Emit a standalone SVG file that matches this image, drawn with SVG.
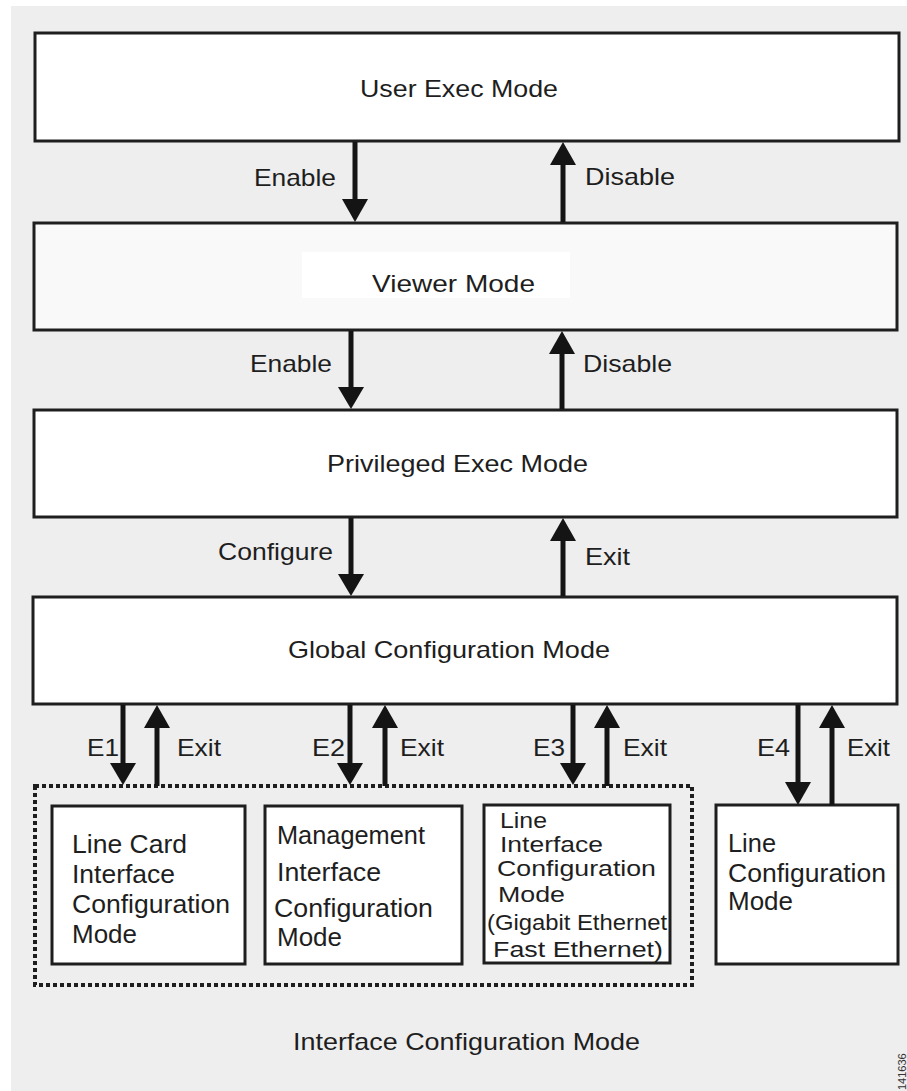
<svg xmlns="http://www.w3.org/2000/svg" width="907" height="1091" viewBox="0 0 907 1091">
<style>
text{font-family:"Liberation Sans",Arial,sans-serif;fill:#1e1e1e}
.t{font-size:24px}
.b{font-size:25px}
.c{font-size:22.5px}
.box{fill:#ffffff;stroke:#1e1e1e;stroke-width:3}
.dot{fill:none;stroke:#1e1e1e;stroke-width:4;stroke-dasharray:4 3}
.sh{stroke:#141414;stroke-width:5}
.hd{fill:#141414}
</style>
<rect x="0" y="0" width="907" height="1091" fill="#ffffff"/>
<rect x="11" y="6" width="896" height="1085" fill="#eeeeee"/>

<g id="user-exec">
<rect class="box" x="35" y="33" width="864" height="108"/>
<text class="t" x="360" y="97" textLength="198" lengthAdjust="spacingAndGlyphs">User Exec Mode</text>
</g>
<g id="viewer">
<rect class="box" x="34" y="223" width="863" height="107" style="fill:#f9f9f9"/>
<rect x="302" y="252" width="268" height="46" fill="#ffffff"/>
<text class="t" x="372" y="292" textLength="163" lengthAdjust="spacingAndGlyphs">Viewer Mode</text>
</g>
<g id="privileged">
<rect class="box" x="34" y="410" width="863" height="107"/>
<text class="t" x="327" y="472" textLength="261" lengthAdjust="spacingAndGlyphs">Privileged Exec Mode</text>
</g>
<g id="global">
<rect class="box" x="33" y="597" width="864" height="107"/>
<text class="t" x="288" y="658" textLength="322" lengthAdjust="spacingAndGlyphs">Global Configuration Mode</text>
</g>

<g id="interface-group">
<rect class="dot" x="35" y="786" width="657" height="199"/>
<text class="t" x="293" y="1050" textLength="347" lengthAdjust="spacingAndGlyphs">Interface Configuration Mode</text>
</g>
<g id="line-card">
<rect class="box" x="52" y="806" width="193" height="158"/>
<text class="b" x="72" y="853" textLength="115" lengthAdjust="spacingAndGlyphs">Line Card</text>
<text class="b" x="72" y="883" textLength="103" lengthAdjust="spacingAndGlyphs">Interface</text>
<text class="b" x="72" y="913" textLength="158" lengthAdjust="spacingAndGlyphs">Configuration</text>
<text class="b" x="72" y="943" textLength="65" lengthAdjust="spacingAndGlyphs">Mode</text>
</g>
<g id="management">
<rect class="box" x="265" y="806" width="197" height="158"/>
<text class="b" x="277" y="844" textLength="148" lengthAdjust="spacingAndGlyphs">Management</text>
<text class="b" x="277" y="881" textLength="104" lengthAdjust="spacingAndGlyphs">Interface</text>
<text class="b" x="274" y="917" textLength="159" lengthAdjust="spacingAndGlyphs">Configuration</text>
<text class="b" x="277" y="946" textLength="65" lengthAdjust="spacingAndGlyphs">Mode</text>
</g>
<g id="line-interface">
<rect class="box" x="484" y="805" width="186" height="158"/>
<text class="c" x="500" y="828" textLength="47" lengthAdjust="spacingAndGlyphs">Line</text>
<text class="c" x="500" y="852" textLength="103" lengthAdjust="spacingAndGlyphs">Interface</text>
<text class="c" x="497" y="876" textLength="159" lengthAdjust="spacingAndGlyphs">Configuration</text>
<text class="c" x="498" y="902" textLength="67" lengthAdjust="spacingAndGlyphs">Mode</text>
<text class="c" x="487" y="930" textLength="180" lengthAdjust="spacingAndGlyphs">(Gigabit Ethernet</text>
<text class="c" x="493" y="957" textLength="170" lengthAdjust="spacingAndGlyphs">Fast Ethernet)</text>
</g>
<g id="line-config">
<rect class="box" x="716" y="805" width="182" height="159"/>
<text class="b" x="728" y="852" textLength="48" lengthAdjust="spacingAndGlyphs">Line</text>
<text class="b" x="728" y="882" textLength="158" lengthAdjust="spacingAndGlyphs">Configuration</text>
<text class="b" x="728" y="910" textLength="65" lengthAdjust="spacingAndGlyphs">Mode</text>
</g>

<g id="connectors">
<line class="sh" x1="355" y1="142" x2="355" y2="202"/>
<polygon class="hd" points="342,199 368,199 355,222"/>
<line class="sh" x1="563" y1="222" x2="563" y2="162"/>
<polygon class="hd" points="550,165 576,165 563,142"/>
<line class="sh" x1="351" y1="331" x2="351" y2="390"/>
<polygon class="hd" points="338,387 364,387 351,409"/>
<line class="sh" x1="562" y1="409" x2="562" y2="351"/>
<polygon class="hd" points="549,354 575,354 562,331"/>
<line class="sh" x1="351" y1="518" x2="351" y2="577"/>
<polygon class="hd" points="338,574 364,574 351,596"/>
<line class="sh" x1="563" y1="596" x2="563" y2="538"/>
<polygon class="hd" points="550,541 576,541 563,518"/>
<line class="sh" x1="123" y1="705" x2="123" y2="765"/>
<polygon class="hd" points="110,763 136,763 123,785"/>
<line class="sh" x1="157" y1="786" x2="157" y2="725"/>
<polygon class="hd" points="144,728 170,728 157,705"/>
<line class="sh" x1="350" y1="705" x2="350" y2="765"/>
<polygon class="hd" points="337,763 363,763 350,785"/>
<line class="sh" x1="385" y1="786" x2="385" y2="725"/>
<polygon class="hd" points="372,728 398,728 385,705"/>
<line class="sh" x1="573" y1="705" x2="573" y2="765"/>
<polygon class="hd" points="560,763 586,763 573,785"/>
<line class="sh" x1="607" y1="786" x2="607" y2="725"/>
<polygon class="hd" points="594,728 620,728 607,705"/>
<line class="sh" x1="798" y1="705" x2="798" y2="785"/>
<polygon class="hd" points="785,782 811,782 798,805"/>
<line class="sh" x1="832" y1="805" x2="832" y2="725"/>
<polygon class="hd" points="819,728 845,728 832,705"/>

<text class="t" x="254" y="186" textLength="82" lengthAdjust="spacingAndGlyphs">Enable</text>
<text class="t" x="585" y="185" textLength="90" lengthAdjust="spacingAndGlyphs">Disable</text>
<text class="t" x="250" y="372" textLength="82" lengthAdjust="spacingAndGlyphs">Enable</text>
<text class="t" x="583" y="372" textLength="89" lengthAdjust="spacingAndGlyphs">Disable</text>
<text class="t" x="218" y="560" textLength="115" lengthAdjust="spacingAndGlyphs">Configure</text>
<text class="t" x="585" y="565" textLength="45" lengthAdjust="spacingAndGlyphs">Exit</text>
<text class="t" x="87" y="756" textLength="32" lengthAdjust="spacingAndGlyphs">E1</text>
<text class="t" x="177" y="756" textLength="44" lengthAdjust="spacingAndGlyphs">Exit</text>
<text class="t" x="312" y="756" textLength="33" lengthAdjust="spacingAndGlyphs">E2</text>
<text class="t" x="400" y="756" textLength="44" lengthAdjust="spacingAndGlyphs">Exit</text>
<text class="t" x="533" y="756" textLength="32" lengthAdjust="spacingAndGlyphs">E3</text>
<text class="t" x="623" y="756" textLength="44" lengthAdjust="spacingAndGlyphs">Exit</text>
<text class="t" x="757" y="756" textLength="33" lengthAdjust="spacingAndGlyphs">E4</text>
<text class="t" x="847" y="756" textLength="43" lengthAdjust="spacingAndGlyphs">Exit</text>
</g>

<text x="906" y="1090" transform="rotate(-90 906 1090)" style="font-size:11px;fill:#333">141636</text>
</svg>
